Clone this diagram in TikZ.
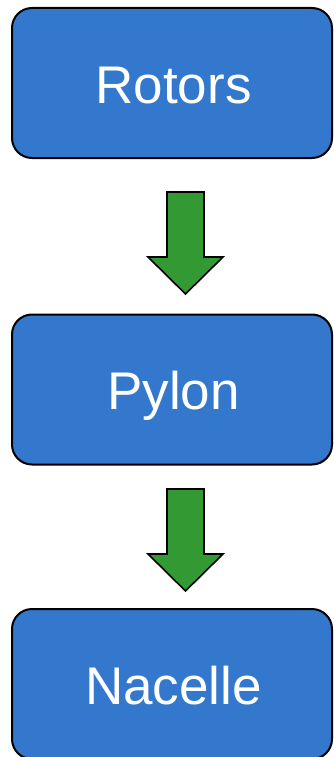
\documentclass[tikz,border=0pt]{standalone}
\usepackage{fontspec}
\setmainfont{Liberation Sans}
\definecolor{boxblue}{HTML}{3378CC}
\definecolor{arrgreen}{HTML}{339933}
\tikzset{
  stage/.style={draw=black, line width=2pt, fill=boxblue, rounded corners=20pt,
    minimum width=320pt, minimum height=150pt, text=white,
    font=\fontsize{53}{60}\selectfont, inner sep=0pt,
    text height=40pt, text depth=0pt},
  blockarrow/.style={draw=black, line width=1.6pt, fill=arrgreen, line join=miter}
}
\begin{document}
\begin{tikzpicture}[x=1pt,y=-1pt]
\useasboundingbox (0,0) rectangle (333,757);
\node[stage] (rotors) at (172,83) {\hspace*{3pt}Rotors};
\node[stage] (pylon) at (172,389.5) {\hspace*{3pt}Pylon};
\node[stage] (nacelle) at (172,684) {\hspace*{3pt}Nacelle};
% block arrows between stages
\coordinate (a1) at (185.5,192);
\coordinate (a2) at (185.5,489);
\foreach \c in {a1,a2}{
  \draw[blockarrow] ([xshift=-18.5pt]\c) -- ([xshift=18.5pt]\c)
    -- ([xshift=18.5pt,yshift=-65pt]\c) -- ([xshift=37.5pt,yshift=-65pt]\c)
    -- ([yshift=-102pt]\c) -- ([xshift=-37.5pt,yshift=-65pt]\c)
    -- ([xshift=-18.5pt,yshift=-65pt]\c) -- cycle;
}
\end{tikzpicture}
\end{document}
